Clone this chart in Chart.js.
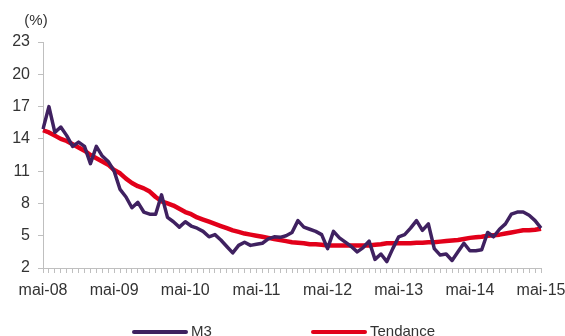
<!DOCTYPE html>
<html>
<head>
<meta charset="utf-8">
<script src="https://cdn.jsdelivr.net/npm/chart.js@4.4.1/dist/chart.umd.min.js"></script>
<style>
  html, body { margin: 0; padding: 0; background: #fff; }
  #wrap { position: relative; width: 565px; height: 336px; font-family: "Liberation Sans", Arial, sans-serif; }
  #chartCanvas { position: absolute; left: 0; top: 0; }
  .leg { position: absolute; top: 322px; font-size: 15px; color: #333; line-height: 18px; white-space: nowrap; }
  .leg span.sw { display: inline-block; height: 4px; border-radius: 2px; vertical-align: middle; margin-right: 3px; }
</style>
</head>
<body>
<div id="wrap">
  <canvas id="chartCanvas" width="565" height="336"></canvas>
  <div class="leg" style="left:132px"><span class="sw" style="width:56px;background:#3f2160"></span>M3</div>
  <div class="leg" style="left:311px"><span class="sw" style="width:56px;background:#e2001a"></span>Tendance</div>
</div>
<script>
// monthly series, mai-08 .. mai-15
const months = ['mai', 'juin', 'juil', 'août', 'sept', 'oct', 'nov', 'déc', 'janv', 'févr', 'mars', 'avr'];
const startYear = 8;
const nMonths = 85;

const m3 = [
  14.9, 17.0, 14.6, 15.1, 14.3, 13.3, 13.7, 13.3, 11.7, 13.3, 12.4, 11.9,
  11.0, 9.3, 8.6, 7.6, 8.1, 7.2, 7.0, 7.0, 8.8, 6.7, 6.3, 5.8,
  6.3, 5.9, 5.7, 5.4, 4.9, 5.1, 4.6, 4.0, 3.4, 4.1, 4.4, 4.1,
  4.2, 4.3, 4.7, 4.9, 4.85, 5.0, 5.3, 6.4, 5.8, 5.6, 5.4, 5.1,
  3.8, 5.4, 4.8, 4.4, 4.0, 3.5, 3.9, 4.5, 2.8, 3.3, 2.6, 3.8,
  4.9, 5.1, 5.7, 6.4, 5.5, 6.1, 3.8, 3.2, 3.3, 2.7, 3.5, 4.3,
  3.6, 3.6, 3.7, 5.3, 4.9, 5.6, 6.1, 7.0, 7.2, 7.2, 6.9, 6.4,
  5.7
];

const tendance = [
  14.8, 14.6, 14.3, 14.0, 13.8, 13.5, 13.2, 12.9, 12.5, 12.2, 11.9, 11.6,
  11.1, 10.8, 10.3, 9.9, 9.6, 9.4, 9.1, 8.6, 8.2, 8.0, 7.8, 7.5,
  7.2, 7.0, 6.7, 6.5, 6.3, 6.1, 5.9, 5.7, 5.5, 5.35, 5.2, 5.1,
  5.0, 4.9, 4.8, 4.7, 4.6, 4.5, 4.4, 4.35, 4.3, 4.2, 4.2, 4.15,
  4.1, 4.1, 4.1, 4.1, 4.1, 4.1, 4.1, 4.1, 4.15, 4.2, 4.3, 4.3,
  4.3, 4.3, 4.3, 4.35, 4.35, 4.4, 4.4, 4.45, 4.5, 4.55, 4.6, 4.7,
  4.8, 4.85, 4.9, 5.0, 5.05, 5.1, 5.2, 5.3, 5.4, 5.5, 5.5, 5.55,
  5.65
];

const yTicks = [2, 5, 8, 11, 14, 17, 20, 23];

const labels = [];
for (let i = 0; i < nMonths; i++) {
  const yr = startYear + Math.floor(i / 12) + (i % 12 >= 8 ? 1 : 0);
  labels.push(months[i % 12] + '-' + String(yr).padStart(2, '0'));
}

const axisGrey = '#bfbfbf';
const textCol = '#333333';
const fontFam = '"Liberation Sans", Arial, sans-serif';

// "(%)" unit over the y axis
const unitLabel = {
  id: 'unitLabel',
  afterDraw(chart) {
    const c = chart.ctx;
    c.save();
    c.font = '15px ' + fontFam;
    c.fillStyle = textCol;
    c.textAlign = 'center';
    c.textBaseline = 'middle';
    c.fillText('(%)', 36, 21);
    c.restore();
  }
};

let ctx = document.querySelector('#chartCanvas');
let graph = new Chart(ctx, {
  type: 'line',
  data: {
    labels: labels,
    datasets: [
      {
        label: 'M3',
        data: m3,
        borderColor: '#3f2160',
        backgroundColor: '#3f2160',
        borderWidth: 3.5,
        pointRadius: 0,
        tension: 0,
        borderJoinStyle: 'round'
      },
      {
        label: 'Tendance',
        data: tendance,
        borderColor: '#e2001a',
        backgroundColor: '#e2001a',
        borderWidth: 4.5,
        pointRadius: 0,
        tension: 0,
        borderJoinStyle: 'round'
      }
    ]
  },
  options: {
    responsive: false,
    animation: false,
    layout: { padding: { top: 42, right: 24, bottom: 28, left: 0 } },
    plugins: {
      legend: { display: false },
      tooltip: { enabled: false }
    },
    scales: {
      x: {
        offset: false,
        border: { color: axisGrey, width: 1 },
        grid: { display: true, drawOnChartArea: false, drawTicks: true, tickLength: 5, color: axisGrey },
        ticks: {
          autoSkip: false,
          maxRotation: 0,
          padding: 8,
          color: textCol,
          font: { family: fontFam, size: 16 },
          callback: (v, i) => (i % 12 === 0 ? labels[i] : '')
        },
        afterFit: (s) => { s.height = 40; s.paddingLeft = 0; s.paddingRight = 0; }
      },
      y: {
        min: 2,
        max: 23,
        border: { color: axisGrey, width: 1 },
        grid: { display: true, drawOnChartArea: false, drawTicks: true, tickLength: 5, color: axisGrey },
        afterBuildTicks: (s) => { s.ticks = yTicks.map(v => ({ value: v })); },
        ticks: {
          padding: 8,
          color: textCol,
          font: { family: fontFam, size: 16 }
        },
        afterFit: (s) => { s.width = 43; s.paddingTop = 0; s.paddingBottom = 0; }
      }
    }
  },
  plugins: [unitLabel]
});
</script>
</body>
</html>
